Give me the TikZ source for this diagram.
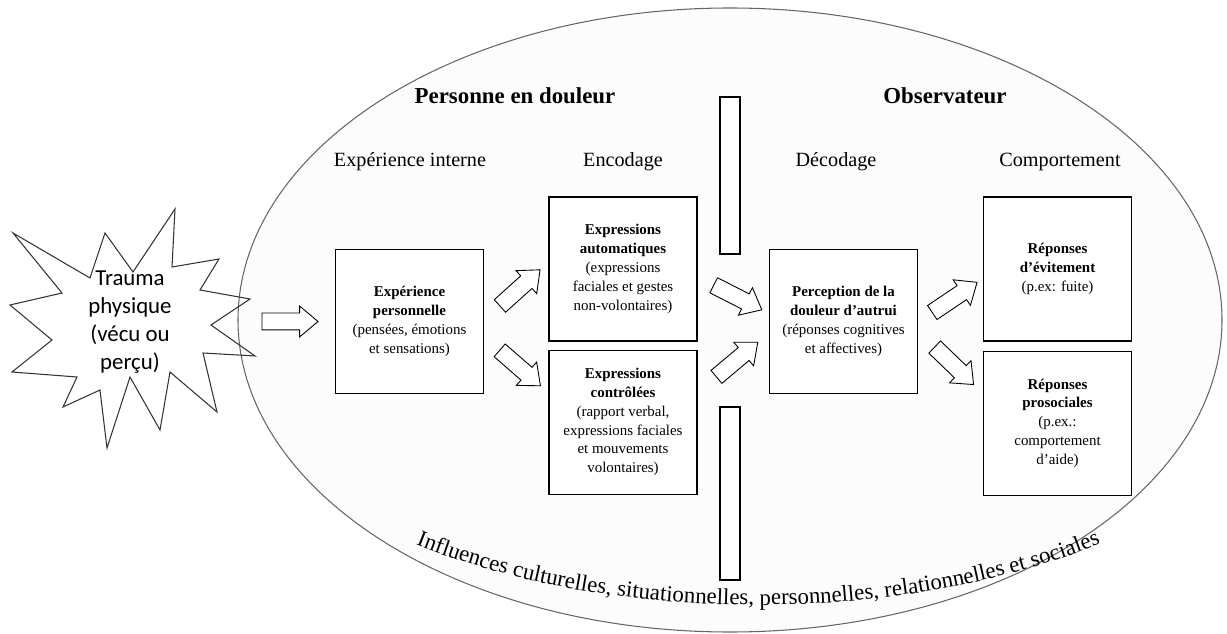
\documentclass[tikz,border=0pt]{standalone}
\usepackage{fontspec}
\setmainfont{Liberation Serif}
\newfontfamily\calibri{Carlito}
\usetikzlibrary{positioning, calc, shapes.geometric, shapes.arrows, decorations.text}

\begin{document}
\begin{tikzpicture}[
    stage/.style={rectangle, draw, line width=0.6pt, fill=white, minimum width=2.96cm, minimum height=2.88cm, align=center, font=\fontsize{8.5}{10.7}\selectfont, inner sep=1pt},
    fat/.style={single arrow, draw, line width=0.5pt, fill=white, minimum height=1.08cm, minimum width=0pt, inner xsep=0pt, inner ysep=0.16cm, single arrow head extend=0.14cm, single arrow tip angle=80},
    wall/.style={rectangle, draw, line width=0.6pt, fill=white, minimum width=0.4cm},
    head/.style={font=\fontsize{13}{15}\selectfont\bfseries},
    phase/.style={font=\fontsize{11.5}{13}\selectfont},
]
  \useasboundingbox (0,0) rectangle (24.54,-12.68);

  % the surrounding context
  \node[ellipse, draw=black!60, fill=black!1, line width=0.6pt, minimum width=19.68cm, minimum height=12.48cm, inner sep=0pt] (milieu) at (14.6,-6.4) {};

  % trauma burst
  \draw[black!80, line width=0.6pt] (0.26,-4.66) -- (1.80,-5.56) -- (2.10,-4.66) -- (2.66,-5.44) -- (3.50,-4.18)
    -- (3.44,-5.34) -- (4.38,-5.18) -- (4.00,-5.80) -- (5.00,-5.98) -- (4.22,-6.50) -- (5.10,-7.12)
    -- (4.06,-7.06) -- (4.34,-8.24) -- (3.40,-7.44) -- (3.20,-8.60) -- (2.60,-7.54) -- (2.14,-8.96)
    -- (2.00,-7.80) -- (1.26,-8.14) -- (1.54,-7.54) -- (0.24,-7.44) -- (1.04,-6.80) -- (0.20,-6.10)
    -- (1.24,-5.86) -- cycle;
  \node[align=center, font=\calibri\fontsize{13}{16}\selectfont] (trauma) at (2.6,-6.44) {Trauma\\physique\\(vécu ou\\perçu)};

  % headings
  \node[head] (personne) at (10.3,-1.92) {Personne en douleur};
  \node[head] (observ) at (18.9,-1.92) {Observateur};
  \node[phase] (interne) at (8.2,-3.24) {Expérience interne};
  \node[phase] (encod) at (12.46,-3.24) {Encodage};
  \node[phase] (decod) at (16.72,-3.24) {Décodage};
  \node[phase] (comport) at (21.2,-3.24) {Comportement};

  % stages
  \node[stage] (exp) at (8.19,-6.43) {\textbf{Expérience}\\\textbf{personnelle}\\(pensées, émotions\\et sensations)};
  \node[stage] (auto) at (12.46,-5.38) {\textbf{Expressions}\\\textbf{automatiques}\\(expressions\\faciales et gestes\\non-volontaires)};
  \node[stage, below=0.16cm of auto] (ctrl) {\textbf{Expressions}\\\textbf{contrôlées}\\(rapport verbal,\\expressions faciales\\et mouvements\\volontaires)};
  \node[stage] (perc) at (16.87,-6.43) {\textbf{Perception de la}\\\textbf{douleur d’autrui}\\(réponses cognitives\\et affectives)};
  \node[stage] (evit) at (21.15,-5.38) {\textbf{Réponses}\\\textbf{d’évitement}\\(p.ex: fuite)};
  \node[stage, below=0.18cm of evit] (proso) {\textbf{Réponses}\\\textbf{prosociales}\\(p.ex.:\\comportement\\d’aide)};

  % the gap between the two persons
  \node[wall, minimum height=3.14cm] (murhaut) at (14.6,-3.51) {};
  \node[wall, minimum height=3.46cm] (murbas) at (14.6,-9.87) {};

  % block arrows
  \node[fat, minimum height=1.12cm] (f0) at ($(exp.west)+(-1.0,0)$) {};
  \node[fat, rotate=42] (f1) at ($(exp.east)!0.5!(auto.west)+(0,0.08)$) {};
  \node[fat, rotate=-41] (f2) at ($(exp.east)!0.5!(ctrl.west)+(0,0.14)$) {};
  \node[fat, rotate=-27] (f3) at ($(auto.east)!0.5!(perc.west)$) {};
  \node[fat, rotate=40] (f4) at ($(ctrl.east)!0.5!(perc.west)+(0,0.18)$) {};
  \node[fat, rotate=34] (f5) at ($(perc.east)!0.5!(evit.west)+(0,-0.1)$) {};
  \node[fat, rotate=-44] (f6) at ($(perc.east)!0.5!(proso.west)+(0,0.2)$) {};

  % influences along the border
  \path[decorate, decoration={text along path, text align=left,
      text={|\fontsize{13}{14}\selectfont|Influences culturelles, situationnelles, personnelles, relationnelles et sociales}}]
    (15.14,-6.4) ++(232:11.08cm and 5.7cm) arc[start angle=232, end angle=330, x radius=11.08cm, y radius=5.7cm];
\end{tikzpicture}
\end{document}
